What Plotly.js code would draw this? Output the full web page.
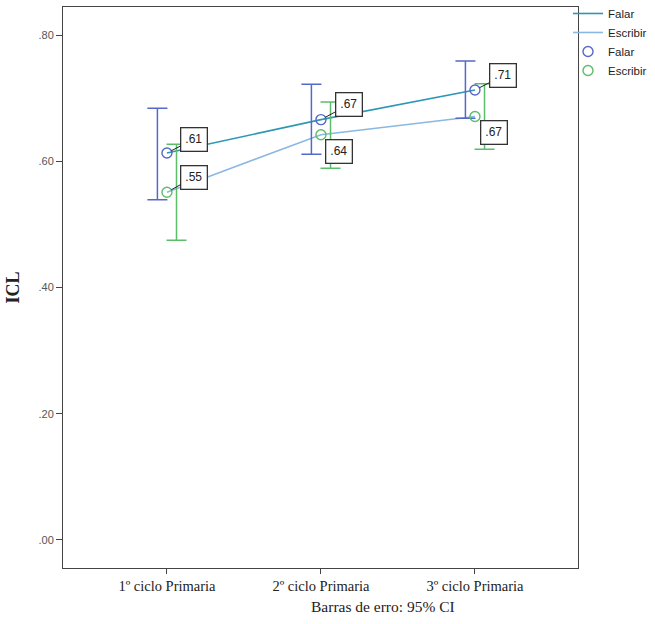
<!DOCTYPE html>
<html>
<head>
<meta charset="utf-8">
<script src="https://cdn.plot.ly/plotly-3.0.1.min.js"></script>
<style>html,body{margin:0;padding:0;background:#fff;}#chart{width:655px;height:624px;}</style>
</head>
<body>
<div id="chart"></div>
<script>
// ---- data ----
const categories = ['1º ciclo Primaria', '2º ciclo Primaria', '3º ciclo Primaria'];
const falarMean = [0.613, 0.666, 0.713];
const falarLower = [0.539, 0.611, 0.668];
const falarUpper = [0.684, 0.722, 0.759];
const escribirMean = [0.551, 0.642, 0.671];
const escribirLower = [0.475, 0.589, 0.619];
const escribirUpper = [0.627, 0.694, 0.723];
const falarLabels = ['.61', '.67', '.71'];
const escribirLabels = ['.55', '.64', '.67'];
const yTickVals = [0, 0.2, 0.4, 0.6, 0.8];
const yTickText = ['.00', '.20', '.40', '.60', '.80'];

// ---- style ----
const cFalarLine = '#2d97b6';
const cEscribirLine = '#8bb8e2';
const cFalarMark = '#5668c8';
const cEscribirMark = '#5cbd6b';
const barOffset = 0.062;
const xIdx = categories.map((_, i) => i);

// label offsets (pixels): [dx, dy, arrow]
const falarLabelPos = [[27, -14, true], [28, -15, true], [28, -14, true]];
const escribirLabelPos = [[27, -15, true], [18, 17, false], [19, 16, false]];

const traces = [
  {x: xIdx, y: falarMean, mode: 'lines', name: 'Falar', line: {color: cFalarLine, width: 1.6}, hoverinfo: 'skip'},
  {x: xIdx, y: escribirMean, mode: 'lines', name: 'Escribir', line: {color: cEscribirLine, width: 1.6}, hoverinfo: 'skip'},
  {x: xIdx.map(v => v - barOffset), y: falarMean, mode: 'markers', showlegend: false,
   marker: {color: 'rgba(0,0,0,0)', size: 1},
   error_y: {type: 'data', symmetric: false,
     array: falarUpper.map((u, i) => u - falarMean[i]),
     arrayminus: falarLower.map((l, i) => falarMean[i] - l),
     color: cFalarMark, thickness: 1.5, width: 10}, hoverinfo: 'skip'},
  {x: xIdx.map(v => v + barOffset), y: escribirMean, mode: 'markers', showlegend: false,
   marker: {color: 'rgba(0,0,0,0)', size: 1},
   error_y: {type: 'data', symmetric: false,
     array: escribirUpper.map((u, i) => u - escribirMean[i]),
     arrayminus: escribirLower.map((l, i) => escribirMean[i] - l),
     color: cEscribirMark, thickness: 1.5, width: 10}, hoverinfo: 'skip'},
  {x: xIdx, y: falarMean, mode: 'markers', name: 'Falar',
   marker: {symbol: 'circle-open', size: 10, color: cFalarMark, line: {width: 1.4}}},
  {x: xIdx, y: escribirMean, mode: 'markers', name: 'Escribir',
   marker: {symbol: 'circle-open', size: 10, color: cEscribirMark, line: {width: 1.4}}}
];

function makeLabel(x, y, text, pos) {
  const base = {
    x: x, y: y, xref: 'x', yref: 'y', text: text,
    font: {family: 'Liberation Sans, Arial, sans-serif', size: 12, color: '#222'},
    bgcolor: '#ffffff', bordercolor: '#333', borderwidth: 1.3, borderpad: 4
  };
  if (pos[2]) {
    return Object.assign(base, {showarrow: true, ax: pos[0], ay: pos[1], arrowhead: 0,
      arrowwidth: 1, arrowcolor: '#222', standoff: 5});
  }
  return Object.assign(base, {showarrow: false, xshift: pos[0], yshift: -pos[1]});
}

const annotations = [];
xIdx.forEach(i => {
  annotations.push(makeLabel(i, falarMean[i], falarLabels[i], falarLabelPos[i]));
  annotations.push(makeLabel(i, escribirMean[i], escribirLabels[i], escribirLabelPos[i]));
});
annotations.push({
  text: 'Barras de erro: 95% CI', xref: 'paper', yref: 'paper', x: 0.621, y: 0,
  yshift: -38, showarrow: false, yanchor: 'middle',
  font: {family: 'Liberation Serif, serif', size: 15.5, color: '#222'}
});

const layout = {
  width: 655, height: 624,
  margin: {l: 63, r: 77, t: 7, b: 56, autoexpand: false},
  paper_bgcolor: '#fff', plot_bgcolor: '#fff',
  showlegend: true,
  legend: {x: 0.9806, y: 1.0143, xanchor: 'left', yanchor: 'top', tracegroupgap: 0,
    font: {family: 'Liberation Sans, Arial, sans-serif', size: 11.5, color: '#222'},
    bgcolor: 'rgba(0,0,0,0)', itemwidth: 30},
  xaxis: {
    range: [-0.675, 2.669], tickvals: xIdx, ticktext: categories,
    showgrid: false, zeroline: false, showline: true, mirror: true,
    linecolor: '#444', linewidth: 1, ticks: 'outside', ticklen: 5, tickcolor: '#444',
    tickfont: {family: 'Liberation Serif, serif', size: 14.5, color: '#222'}
  },
  yaxis: {
    range: [-0.0444, 0.8444], tickvals: yTickVals, ticktext: yTickText,
    showgrid: false, zeroline: false, showline: true, mirror: true,
    linecolor: '#444', linewidth: 1, ticks: 'outside', ticklen: 6, tickcolor: '#444',
    tickfont: {family: 'Liberation Sans, Arial, sans-serif', size: 11, color: '#555'},
    title: {text: '<b>ICL</b>', standoff: 14,
      font: {family: 'Liberation Serif, serif', size: 18, color: '#222'}}
  },
  annotations: annotations
};

Plotly.newPlot('chart', traces, layout, {displayModeBar: false, staticPlot: true});
</script>
</body>
</html>
